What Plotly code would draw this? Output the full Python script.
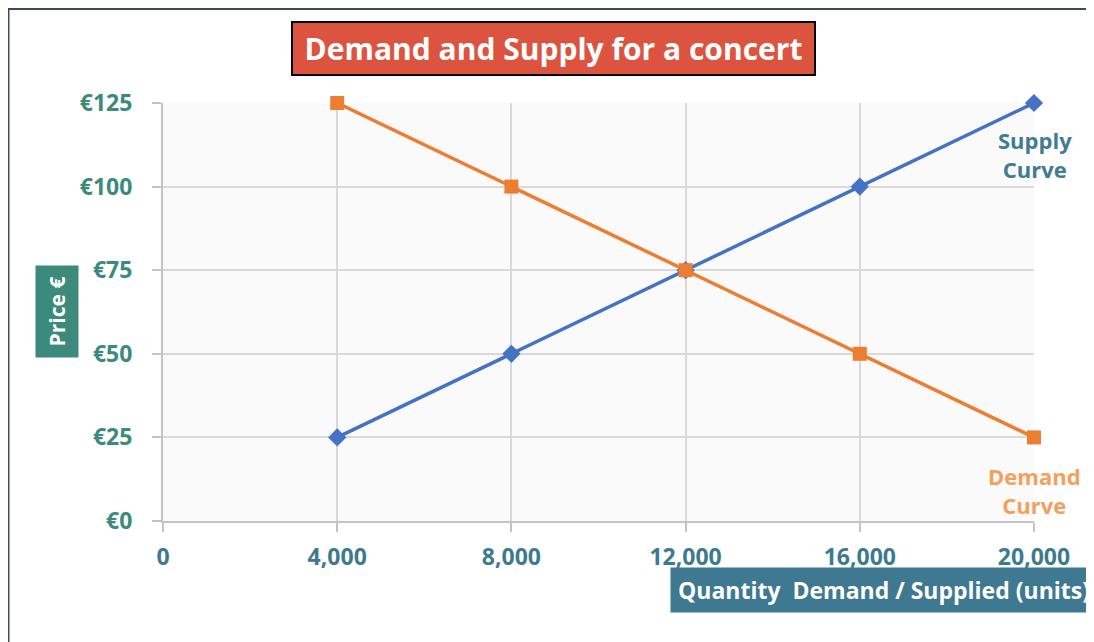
import plotly.graph_objects as go

quantity = [4000, 8000, 12000, 16000, 20000]
supply_price = [25, 50, 75, 100, 125]
demand_price = [125, 100, 75, 50, 25]
y_ticks = [0, 25, 50, 75, 100, 125]
y_tick_labels = ["€0", "€25", "€50", "€75", "€100", "€125"]
x_ticks = [0, 4000, 8000, 12000, 16000, 20000]
x_tick_labels = ["0", "4,000", "8,000", "12,000", "16,000", "20,000"]

OFF = 8  # page body margin
W, H = 1094 - OFF, 642 - OFF
L, R, T, B = 163 - OFF, 60, 103 - OFF, 121
PW, PH = W - L - R, H - T - B

def px(x):
    return (x - OFF - L) / PW

def py(y):
    return (H - B - (y - OFF)) / PH

FONT = "Open Sans"
BLUE = "#4472c4"
ORANGE = "#ed7d31"
TEAL = "#3b8a7b"
STEEL = "#3e7a8f"

fig = go.Figure()
fig.add_trace(go.Scatter(
    x=quantity, y=supply_price, mode="lines+markers", name="Supply",
    line=dict(color=BLUE, width=3.5), cliponaxis=False,
    marker=dict(symbol="diamond", size=14, color=BLUE),
))
fig.add_trace(go.Scatter(
    x=quantity, y=demand_price, mode="lines+markers", name="Demand",
    line=dict(color=ORANGE, width=3.5), cliponaxis=False,
    marker=dict(symbol="square", size=14, color=ORANGE),
))

fig.update_layout(
    width=W, height=H,
    margin=dict(l=L, r=R, t=T, b=B),
    paper_bgcolor="white",
    plot_bgcolor="#fafafa",
    showlegend=False,
    font=dict(family=FONT),
)
fig.update_xaxes(
    range=[0, 20000], tickvals=x_ticks, ticktext=x_tick_labels,
    showgrid=True, gridcolor="#d9d9d9", gridwidth=1.5,
    showline=True, linecolor="#c4c4c4", linewidth=2,
    ticks="outside", ticklen=9, tickcolor="#c4c4c4", tickwidth=1.5,
    zeroline=False, ticklabelstandoff=5,
    tickfont=dict(family=FONT, size=23, color=STEEL, weight="bold"),
)
fig.update_yaxes(
    range=[0, 125], tickvals=y_ticks, ticktext=y_tick_labels,
    showgrid=True, gridcolor="#d9d9d9", gridwidth=1.5,
    showline=True, linecolor="#c4c4c4", linewidth=2,
    ticks="outside", ticklen=9, tickcolor="#c4c4c4", tickwidth=1.5,
    zeroline=False, ticklabelstandoff=15,
    tickfont=dict(family=FONT, size=23, color=TEAL, weight="bold"),
)

# outer frame
fig.add_shape(type="rect", xref="paper", yref="paper",
              x0=px(8.5), y0=py(700), x1=px(1200), y1=py(9),
              line=dict(color="#3c4b5c", width=2), layer="below")

# title box
fig.add_annotation(
    xref="paper", yref="paper", x=px(553.5), y=py(48.5),
    xanchor="center", yanchor="middle", showarrow=False,
    text="<b>Demand and Supply for a concert</b>",
    font=dict(family=FONT, size=30, color="white"),
    bgcolor="#dc5440", bordercolor="black", borderwidth=2,
    width=519, height=49,
)

# y axis title
fig.add_annotation(
    xref="paper", yref="paper", x=px(57), y=py(312),
    xanchor="center", yanchor="middle", showarrow=False,
    text="<b>Price €</b>", textangle=-90,
    font=dict(family=FONT, size=21, color="white"),
    bgcolor=TEAL, width=89, height=40,
)

# x axis title
fig.add_annotation(
    xref="paper", yref="paper", x=px(884), y=py(590),
    xanchor="center", yanchor="middle", showarrow=False,
    text="<b>Quantity\u00a0\u00a0Demand / Supplied (units)</b>",
    font=dict(family=FONT, size=23, color="white"),
    bgcolor="#3e7891", width=424, height=42,
)

# curve labels
fig.add_annotation(
    xref="paper", yref="paper", x=px(1035), y=py(154),
    xanchor="center", yanchor="middle", showarrow=False,
    text="<b>Supply<br>Curve</b>",
    font=dict(family=FONT, size=22, color="#417c8f"),
)
fig.add_annotation(
    xref="paper", yref="paper", x=px(1034), y=py(490),
    xanchor="center", yanchor="middle", showarrow=False,
    text="<b>Demand<br>Curve</b>",
    font=dict(family=FONT, size=22, color="#f4a05c"),
)

fig.write_html("out.html")
